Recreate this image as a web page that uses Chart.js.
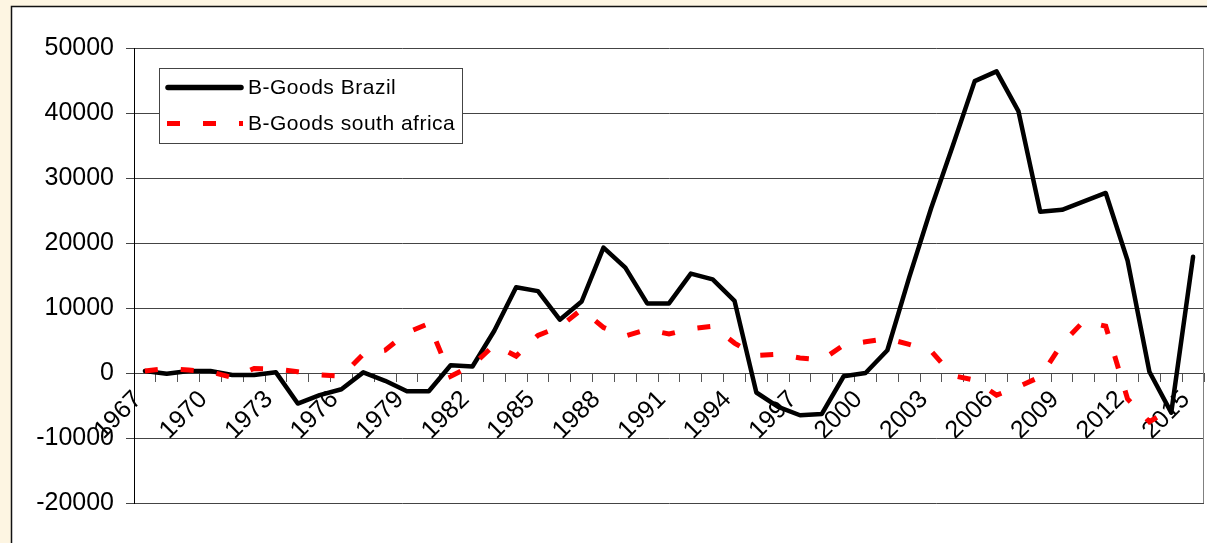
<!DOCTYPE html>
<html>
<head>
<meta charset="utf-8">
<script src="https://cdn.jsdelivr.net/npm/chart.js@4.4.1/dist/chart.umd.min.js"></script>
<style>
  html, body { margin: 0; padding: 0; background: #fdf5e2; }
  #wrap { width: 1207px; height: 543px; position: relative; }
</style>
</head>
<body>
<div id="wrap"><canvas id="chart"></canvas></div>
<script>
// B-Goods balance, Brazil vs South Africa, 1967-2015
const years = [
  '1967', '1968', '1969', '1970', '1971', '1972', '1973', '1974', '1975', '1976',
  '1977', '1978', '1979', '1980', '1981', '1982', '1983', '1984', '1985', '1986',
  '1987', '1988', '1989', '1990', '1991', '1992', '1993', '1994', '1995', '1996',
  '1997', '1998', '1999', '2000', '2001', '2002', '2003', '2004', '2005', '2006',
  '2007', '2008', '2009', '2010', '2011', '2012', '2013', '2014', '2015'
];

const brazil = [
  300, -100, 300, 300, -300, -300, 100, -4700, -3400, -2500,
  100, -1200, -2800, -2800, 1200, 1000, 6500, 13200, 12600, 8200,
  11000, 19300, 16200, 10700, 10700, 15300, 14400, 11100, -3000, -5200,
  -6500, -6300, -500, 0, 3500, 14700, 25300, 35000, 44900, 46400,
  40300, 24800, 25100, 26400, 27700, 17300, 200, -6100, 17900
];

const southAfrica = [
  300, 700, 450, 200, -700, 700, 600, 200, -300, -500,
  2900, 3500, 6200, 7600, -500, 1200, 4300, 2600, 5800, 7100,
  9800, 7000, 5700, 6700, 6000, 6800, 7200, 4600, 2700, 2900,
  2300, 2000, 4300, 4800, 5300, 4400, 3400, -400, -1100, -3400,
  -2100, -600, 4500, 8000, 7200, -4000, -7500, -5500, null
];

const seriesNames = ['B-Goods Brazil', 'B-Goods south africa'];
const yMin = -20000;
const yMax = 50000;
const yStep = 10000;

const FONT = "'Liberation Sans', Arial, sans-serif";

// cream page with the white chart panel and its frame
const framePlugin = {
  id: 'frame',
  beforeDraw(chart) {
    const { ctx, width, height } = chart;
    ctx.save();
    ctx.fillStyle = '#fdf5e2';
    ctx.fillRect(0, 0, width, height);
    ctx.fillStyle = '#ffffff';
    ctx.fillRect(11, 6, width - 11, height - 6);
    ctx.strokeStyle = '#111';
    ctx.lineWidth = 1.5;
    ctx.beginPath();
    ctx.moveTo(11.5, height);
    ctx.lineTo(11.5, 6.5);
    ctx.lineTo(width, 6.5);
    ctx.stroke();
    ctx.restore();
  }
};

// right edge of the plot area
const plotBorder = {
  id: 'plotBorder',
  beforeDatasetsDraw(chart) {
    const { ctx, chartArea: a } = chart;
    ctx.save();
    ctx.strokeStyle = '#808080';
    ctx.lineWidth = 1;
    ctx.beginPath();
    ctx.moveTo(Math.round(a.right) - 0.5, a.top);
    ctx.lineTo(Math.round(a.right) - 0.5, a.bottom);
    ctx.stroke();
    ctx.restore();
  }
};

// legend box inside the plot, top left
const legendBox = {
  id: 'legendBox',
  afterDatasetsDraw(chart) {
    const { ctx } = chart;
    const bx = 159.5, by = 68.5, bw = 303, bh = 75;
    ctx.save();
    ctx.fillStyle = '#fff';
    ctx.fillRect(bx, by, bw, bh);
    ctx.strokeStyle = '#444';
    ctx.lineWidth = 1;
    ctx.strokeRect(bx, by, bw, bh);
    chart.data.datasets.forEach((ds, i) => {
      const ly = by + 19 + i * 36;
      ctx.beginPath();
      ctx.strokeStyle = ds.borderColor;
      if (ds.borderDash) {
        ctx.setLineDash(ds.borderDash);
        ctx.lineCap = 'butt';
        ctx.lineWidth = ds.borderWidth;
        ctx.moveTo(167, ly);
        ctx.lineTo(243, ly);
      } else {
        ctx.setLineDash([]);
        ctx.lineCap = 'round';
        ctx.lineWidth = 5.5;
        ctx.moveTo(168, ly);
        ctx.lineTo(241, ly);
      }
      ctx.stroke();
      ctx.setLineDash([]);
      ctx.fillStyle = '#000';
      ctx.font = '21px ' + FONT;
      if ('letterSpacing' in ctx) ctx.letterSpacing = '0.5px';
      ctx.textBaseline = 'middle';
      ctx.textAlign = 'left';
      ctx.fillText(ds.label, 248, ly + 1);
      if ('letterSpacing' in ctx) ctx.letterSpacing = '0px';
    });
    ctx.restore();
  }
};

new Chart(document.getElementById('chart'), {
  type: 'line',
  data: {
    labels: years,
    datasets: [
      {
        label: seriesNames[0],
        data: brazil,
        borderColor: '#000000',
        borderWidth: 4.5,
        borderJoinStyle: 'round',
        borderCapStyle: 'round',
        pointRadius: 0,
        tension: 0,
        order: 2
      },
      {
        label: seriesNames[1],
        data: southAfrica,
        borderColor: '#ff0000',
        borderWidth: 5,
        borderDash: [13, 23],
        borderCapStyle: 'butt',
        pointRadius: 0,
        tension: 0,
        order: 1
      }
    ]
  },
  options: {
    responsive: true,
    maintainAspectRatio: false,
    animation: false,
    devicePixelRatio: 1,
    layout: { padding: { left: 0, top: 48, right: 3, bottom: 40 } },
    plugins: {
      legend: { display: false },
      tooltip: { enabled: false }
    },
    scales: {
      x: {
        type: 'category',
        offset: true,
        position: { y: 0 },
        grid: { drawOnChartArea: false, tickLength: 8, color: '#555', offset: true },
        border: { display: true, color: '#444', width: 1 },
        ticks: {
          autoSkip: false,
          minRotation: 45,
          maxRotation: 45,
          padding: 4,
          labelOffset: -7,
          color: '#000',
          font: { family: FONT, size: 25 },
          callback: (v, i) => (i % 3 === 0 ? years[i] : '')
        },
        afterFit: s => { s.paddingLeft = 0; s.paddingRight = 0; }
      },
      y: {
        min: yMin,
        max: yMax,
        ticks: {
          stepSize: yStep,
          padding: 12,
          color: '#000',
          font: { family: FONT, size: 25 },
          callback: v => String(v)
        },
        grid: { color: '#444', lineWidth: 1, tickLength: 8 },
        border: { display: true, color: '#000', width: 1 },
        afterFit: s => { s.width = 134; }
      }
    }
  },
  plugins: [framePlugin, plotBorder, legendBox]
});
</script>
</body>
</html>
